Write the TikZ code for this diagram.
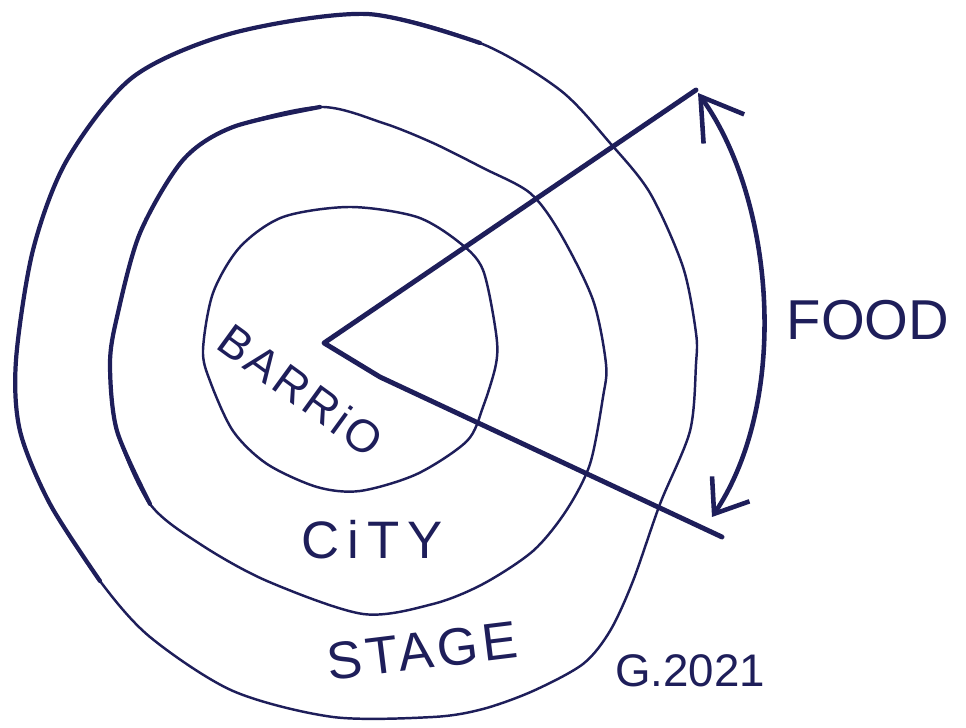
\documentclass[tikz,border=0pt]{standalone}
\usepackage{fontspec}
\usetikzlibrary{arrows.meta}
\newfontfamily\handfont[LetterSpace=8]{Liberation Sans}
\newfontfamily\widehand[LetterSpace=15]{Liberation Sans}
\newfontfamily\plainhand{Liberation Sans}
\definecolor{ink}{RGB}{30,30,90}

\begin{document}
\begin{tikzpicture}[x=0.1mm,y=-0.1mm,
  ring/.style={ink,line width=0.7pt,line cap=round,line join=round},
  heavy/.style={ink,line width=1.2pt,line cap=round,line join=round},
  word/.style={ink,inner sep=0pt}]
  \useasboundingbox (0,0) rectangle (966,728);
  % outer ring (stage)
  \draw[ring] plot[smooth cycle] coordinates {(433,717) (333,717) (233,691) (150,637) (100,581) (50,504) (20,431) (16,360) (33,250) (67,160) (133,77) (233,33) (367,14) (480,43) (560,90) (610,143) (650,193) (683,267) (696,333) (696,364) (690,431) (660,504) (633,581) (610,631) (583,664) (533,691) (483,709)};
  \draw[heavy] plot[smooth] coordinates {(100,581) (50,504) (20,431) (16,360) (33,250) (67,160) (133,77) (233,33) (367,14) (480,43)};
  % middle ring (city)
  \draw[ring] plot[smooth cycle] coordinates {(363,614) (267,581) (200,544) (150,504) (117,431) (110,364) (117,317) (140,233) (183,160) (233,127) (320,107) (383,123) (433,143) (483,168) (530,193) (560,233) (593,300) (606,364) (603,397) (590,464) (566,511) (533,551) (483,584) (433,604)};
  \draw[heavy] plot[smooth] coordinates {(150,504) (117,431) (110,364) (117,317) (140,233) (183,160) (233,127) (320,107)};
  % inner ring (barrio)
  \draw[ring] plot[smooth cycle] coordinates {(360,491) (317,487) (267,464) (233,431) (210,381) (203,350) (213,293) (240,247) (283,217) (350,207) (417,217) (460,243) (483,270) (496,333) (496,364) (483,407) (467,441) (417,474)};

  % food wedge
  \coordinate (hub) at (324,343);
  \coordinate (tipA) at (696,90);
  \coordinate (bend) at (380,377);
  \coordinate (tipB) at (722,537);
  \draw[heavy,line width=1.4pt] (tipA) -- (hub) -- (bend) -- (tipB);

  \coordinate (arcA) at (698,93);
  \coordinate (arcB) at (712,517);
  \draw[heavy,line width=1.3pt,{Straight Barb[length=4mm,width=5mm]}-{Straight Barb[length=3mm,width=4.5mm]}]
    (arcA) .. controls (775,200) and (790,400) .. (arcB);

  % labels
  \node[word,font=\handfont\fontsize{13}{15}\selectfont,rotate=-36] (barrio) at (301,390) {BARRiO};
  \node[word,font=\widehand\fontsize{15}{17}\selectfont] (city) at (372,540) {CiTY};
  \node[word,font=\handfont\fontsize{15}{17}\selectfont,rotate=7] (stage) at (422,651) {STAGE};
  \node[word,font=\plainhand\fontsize{16}{18}\selectfont] (food) at (868,320) {FOOD};
  \node[word,font=\plainhand\fontsize{13}{15}\selectfont] (date) at (690,671) {G.2021};
\end{tikzpicture}
\end{document}
